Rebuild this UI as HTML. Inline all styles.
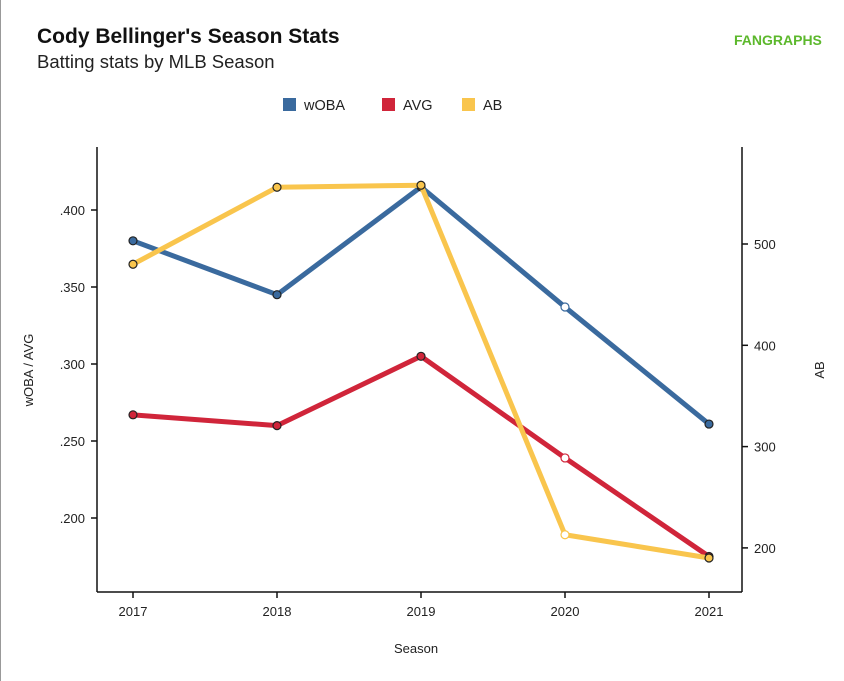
<!DOCTYPE html>
<html><head><meta charset="utf-8">
<style>
body{margin:0;background:#fff;font-family:"Liberation Sans",sans-serif;}
#wrap{position:relative;width:844px;height:681px;overflow:hidden;border-left:1px solid #999;box-sizing:border-box;}
</style></head>
<body>
<div id="wrap">
<svg id="chart" width="844" height="681"></svg>
</div>
<script>
const seasons=["2017","2018","2019","2020","2021"];
const woba=[0.380,0.345,0.415,0.337,0.261];
const avg=[0.267,0.260,0.305,0.239,0.175];
const ab=[480,556,558,213,190];
const leftTicks=[0.200,0.250,0.300,0.350,0.400];
const leftTickLabels=[".200",".250",".300",".350",".400"];
const rightTicks=[200,300,400,500];
const partial=[false,false,false,true,false];

const NS="http://www.w3.org/2000/svg";
const svg=document.getElementById('chart');
function mk(tag,attrs,parent){const e=document.createElementNS(NS,tag);for(const k in attrs)e.setAttribute(k,attrs[k]);(parent||svg).appendChild(e);return e;}
const xS=i=>132+i*144;
const yL=v=>210+(0.400-v)/0.050*77;
const yR=v=>244+(500-v)*1.013;

let t=mk('text',{x:36,y:43,'font-size':21,'font-weight':'bold',fill:'#111'});t.textContent="Cody Bellinger's Season Stats";

t=mk('text',{x:36,y:68,'font-size':18.5,fill:'#222'});t.textContent="Batting stats by MLB Season";

t=mk('text',{x:733,y:45,'font-size':14,'font-weight':'bold',fill:'#5cb82c'});t.textContent="FANGRAPHS";


const series=[["wOBA","#3a6a9e",woba,yL],["AVG","#d0253a",avg,yL],["AB","#f9c54d",ab,yR]];
const lx=[282,381,461];
series.forEach((s,k)=>{
  const g=mk('g',{});
  mk('rect',{x:lx[k],y:98,width:13,height:13,fill:s[1]},g);
  const tt=mk('text',{x:lx[k]+21,y:110,'font-size':14.5,fill:'#222'},g);tt.textContent=s[0];
});

const ax=mk('g',{stroke:'#111','stroke-width':1.5});

mk('line',{x1:96,y1:147,x2:96,y2:592},ax);
mk('line',{x1:741,y1:147,x2:741,y2:592},ax);
mk('line',{x1:96,y1:592,x2:741,y2:592},ax);
seasons.forEach((s,i)=>{
  mk('line',{x1:xS(i),y1:592,x2:xS(i),y2:598},ax);
  const tt=mk('text',{x:xS(i),y:616,'font-size':13,'text-anchor':'middle',fill:'#222'});tt.textContent=s;
  
});
leftTicks.forEach((v,i)=>{
  mk('line',{x1:90,y1:yL(v),x2:96,y2:yL(v)},ax);
  const tt=mk('text',{x:84,y:yL(v)+5,'font-size':13,'text-anchor':'end',fill:'#222'});tt.textContent=leftTickLabels[i];
  
});
rightTicks.forEach(v=>{
  mk('line',{x1:741,y1:yR(v),x2:747,y2:yR(v)},ax);
  const tt=mk('text',{x:753,y:yR(v)+5,'font-size':13,fill:'#222'});tt.textContent=String(v);
  
});
t=mk('text',{x:415,y:653,'font-size':13,'text-anchor':'middle',fill:'#222'});t.textContent="Season";

t=mk('text',{x:0,y:0,'font-size':13,'text-anchor':'middle',fill:'#222',transform:'translate(32,370) rotate(-90)'});t.textContent="wOBA / AVG";

t=mk('text',{x:0,y:0,'font-size':13,'text-anchor':'middle',fill:'#222',transform:'translate(823,370) rotate(-90)'});t.textContent="AB";


[0,1,2].forEach(k=>{
  const s=series[k];
  const g=mk('g',{});
  const pts=s[2].map((v,i)=>xS(i)+','+s[3](v)).join(' ');
  const pl=mk('polyline',{points:pts,fill:'none',stroke:s[1],'stroke-width':5,'stroke-linejoin':'round'},g);
  
  s[2].forEach((v,i)=>{
    const c=mk('circle',{cx:xS(i),cy:s[3](v),r:4,fill:partial[i]?'#fff':s[1],stroke:partial[i]?s[1]:'#222','stroke-width':1.2},g);
    
    
  });
});
</script>
</body></html>
